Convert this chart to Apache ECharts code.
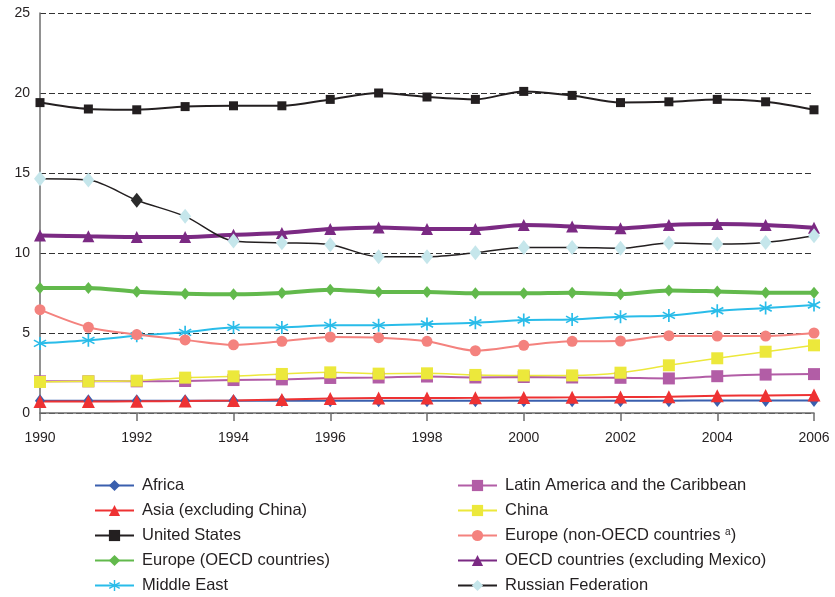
<!DOCTYPE html>
<html>
<head>
<meta charset="utf-8">
<script src="https://cdn.jsdelivr.net/npm/echarts@6/dist/echarts.min.js"></script>
<style>
  html, body { margin: 0; padding: 0; background: #fff; }
  #chart { width: 835px; height: 597px; }
</style>
</head>
<body>
<div id="chart"></div>
<script>
var years = ['1990','1991','1992','1993','1994','1995','1996','1997','1998','1999','2000','2001','2002','2003','2004','2005','2006'];

var africa      = [0.76, 0.76, 0.76, 0.76, 0.76, 0.77, 0.77, 0.77, 0.77, 0.77, 0.77, 0.76, 0.77, 0.77, 0.78, 0.78, 0.78];
var asia        = [0.72, 0.72, 0.73, 0.75, 0.78, 0.85, 0.90, 0.93, 0.94, 0.95, 0.97, 0.98, 1.00, 1.02, 1.08, 1.10, 1.13];
var us          = [19.4, 19.0, 18.95, 19.15, 19.2, 19.2, 19.6, 20.0, 19.75, 19.6, 20.1, 19.85, 19.4, 19.45, 19.6, 19.45, 18.95];
var europeOecd  = [7.81, 7.81, 7.58, 7.46, 7.42, 7.50, 7.71, 7.56, 7.56, 7.48, 7.48, 7.52, 7.42, 7.66, 7.60, 7.52, 7.52];
var middleEast  = [4.35, 4.54, 4.83, 5.04, 5.35, 5.35, 5.48, 5.48, 5.56, 5.64, 5.81, 5.85, 6.02, 6.10, 6.39, 6.56, 6.75];
var latinAm     = [1.98, 1.98, 1.98, 2.0, 2.06, 2.1, 2.19, 2.22, 2.28, 2.22, 2.25, 2.22, 2.2, 2.16, 2.3, 2.4, 2.43];
var china       = [1.94, 1.98, 2.02, 2.21, 2.29, 2.44, 2.54, 2.46, 2.48, 2.38, 2.35, 2.35, 2.52, 2.98, 3.42, 3.83, 4.23];
var europeNon   = [6.46, 5.36, 4.90, 4.57, 4.26, 4.48, 4.75, 4.71, 4.48, 3.89, 4.23, 4.48, 4.50, 4.83, 4.81, 4.81, 5.00];
var oecd        = [11.1, 11.04, 11.0, 11.0, 11.14, 11.25, 11.5, 11.6, 11.5, 11.5, 11.75, 11.66, 11.54, 11.75, 11.81, 11.75, 11.58];
var russia      = [14.64, 14.56, 13.3, 12.29, 10.75, 10.64, 10.52, 9.77, 9.77, 10.02, 10.35, 10.35, 10.3, 10.62, 10.56, 10.66, 11.08];

var leftNames  = ['Africa', 'Asia (excluding China)', 'United States', 'Europe (OECD countries)', 'Middle East'];
var rightNames = ['Latin America and the Caribbean', 'China', 'Europe (non-OECD countries)', 'OECD countries (excluding Mexico)', 'Russian Federation'];

// six-armed asterisk for Middle East
var asterisk = 'path://M-1.2 -10 L1.2 -10 L1.2 10 L-1.2 10 Z' +
  'M-9.26 -3.96 L-8.06 -6.04 L9.26 3.96 L8.06 6.04 Z' +
  'M8.06 -6.04 L9.26 -3.96 L-8.06 6.04 L-9.26 3.96 Z';

function line(name, data, color, width, symbol, size, markerColor) {
  return {
    name: name,
    type: 'line',
    data: data,
    smooth: 0.3,
    symbol: symbol,
    symbolSize: size,
    showAllSymbol: true,
    lineStyle: { color: color, width: width },
    itemStyle: { color: markerColor || color },
    emphasis: { disabled: true }
  };
}

var russiaData = russia.map(function (v, i) {
  // 1992 point drawn as a dark marker in the original
  return i === 2 ? { value: v, itemStyle: { color: '#2b2b2b' } } : v;
});

var chart = echarts.init(document.getElementById('chart'));

var legendBase = {
  orient: 'vertical',
  top: 477,
  height: 140,
  padding: 0,
  itemWidth: 39,
  itemHeight: 14,
  itemGap: 8,
  textStyle: {
    fontFamily: 'Liberation Sans, Arial, sans-serif',
    fontSize: 16.5,
    color: '#231f20',
    padding: [0, 0, 0, 3],
    rich: { sup: { fontSize: 10, verticalAlign: 'top', padding: [0, 0, 7, 0], color: '#231f20' } }
  },
  formatter: function (name) {
    return name === 'Europe (non-OECD countries)' ? 'Europe (non-OECD countries {sup|a})' : name;
  }
};

chart.setOption({
  animation: false,
  backgroundColor: '#fff',
  textStyle: { fontFamily: 'Liberation Sans, Arial, sans-serif' },
  grid: { left: 40, right: 21, top: 13, bottom: 184 },
  legend: [
    Object.assign({}, legendBase, { left: 94, data: leftNames }),
    Object.assign({}, legendBase, { left: 457, data: rightNames })
  ],
  xAxis: {
    type: 'category',
    data: years,
    boundaryGap: false,
    axisLine: { lineStyle: { color: '#6d6d6d', width: 1.5 } },
    axisTick: { show: true, interval: 1, length: 8, lineStyle: { color: '#6d6d6d', width: 1.5 } },
    axisLabel: { interval: 1, margin: 18, fontSize: 14, color: '#231f20' },
    splitLine: { show: false }
  },
  yAxis: {
    type: 'value',
    min: 0,
    max: 25,
    interval: 5,
    axisLine: { show: true, lineStyle: { color: '#6d6d6d', width: 1.5 } },
    axisTick: { show: false },
    axisLabel: { margin: 10, fontSize: 14, color: '#231f20' },
    splitLine: { show: true, lineStyle: { color: '#333', type: [6, 3], width: 1 } }
  },
  series: [
    line('Africa', africa, '#3a5fae', 2, 'diamond', [10, 13]),
    line('Asia (excluding China)', asia, '#ee3233', 2, 'triangle', 13),
    line('United States', us, '#231f20', 2, 'rect', 9),
    line('Europe (OECD countries)', europeOecd, '#62b94c', 4, 'diamond', [10, 12]),
    line('Middle East', middleEast, '#29bce9', 2, asterisk, 13),
    line('Latin America and the Caribbean', latinAm, '#b25da6', 2, 'rect', 12),
    line('China', china, '#ece83b', 1.5, 'rect', 12),
    line('Europe (non-OECD countries)', europeNon, '#f4827e', 2, 'circle', 11),
    line('OECD countries (excluding Mexico)', oecd, '#7b2a83', 4, 'triangle', 12),
    line('Russian Federation', russiaData, '#231f20', 1.5, 'diamond', [12, 15], '#c5e6eb')
  ]
});
</script>
</body>
</html>
